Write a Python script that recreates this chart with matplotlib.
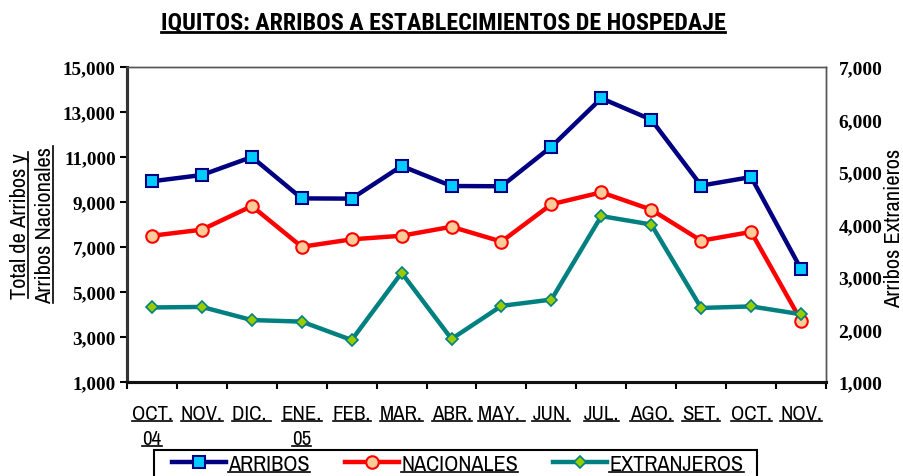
import numpy as np
import matplotlib
matplotlib.use('Agg')
import matplotlib.pyplot as plt
from matplotlib.lines import Line2D
from matplotlib.patches import Rectangle
from matplotlib.ticker import FuncFormatter, FixedLocator

# data
months = ['OCT.', 'NOV.', 'DIC. ', 'ENE.', 'FEB.', 'MAR.', 'ABR.', 'MAY. ', 'JUN.',
          'JUL.', 'AGO.', 'SET.', 'OCT.', 'NOV.']
years = {0: '04', 3: '05'}
arribos = [9920, 10200, 11000, 9160, 9150, 10600, 9710, 9700, 11460, 13610,
           12660, 9730, 10110, 6020]
nacionales = [7500, 7770, 8820, 7010, 7340, 7500, 7900, 7240, 8900, 9430,
              8660, 7280, 7670, 3730]
extranjeros = [2420, 2430, 2180, 2150, 1800, 3080, 1820, 2450, 2570, 4160,
               4000, 2410, 2440, 2290]
left_ticks = [1000, 3000, 5000, 7000, 9000, 11000, 13000, 15000]
right_ticks = [1000, 2000, 3000, 4000, 5000, 6000, 7000]

W, H = 904, 477
narrow = ['Archivo Narrow', 'DejaVu Sans']
narrow_bold = ['Roboto Condensed', 'PT Sans Narrow', 'Asap Condensed', 'DejaVu Sans']
serif = ['Liberation Serif', 'DejaVu Serif']

fig = plt.figure(figsize=(W / 100, H / 100), dpi=100)
ax = fig.add_axes([127 / W, 1 - 383 / H, 699 / W, 315 / H])
ax2 = ax.twinx()

x = np.arange(len(months))
l1, = ax.plot(x, arribos, color='#000080', lw=3.2, marker='s', ms=8.5,
              mfc='#00CCFF', mec='#000080', mew=1.5, label='ARRIBOS')
l2, = ax.plot(x, nacionales, color='#FF0000', lw=3.2, marker='o', ms=9,
              mfc='#FFCC99', mec='#FF0000', mew=1.5, label='NACIONALES')
l3, = ax2.plot(x, extranjeros, color='#008080', lw=3.2, marker='D', ms=6.5,
               mfc='#99CC00', mec='#008080', mew=1.2, label='EXTRANJEROS')

ax.set_xlim(-0.5, len(months) - 0.5)
ax.set_ylim(1000, 15000)
ax2.set_ylim(1000, 7000)
ax.set_yticks(left_ticks)
ax2.set_yticks(right_ticks)
fmt = FuncFormatter(lambda v, p: '{:,.0f}'.format(v))
ax.yaxis.set_major_formatter(fmt)
ax2.yaxis.set_major_formatter(fmt)

ax.set_xticks(x)
ax.set_xticklabels(months)
ax.xaxis.set_minor_locator(FixedLocator(np.arange(-0.5, len(months), 1.0)))
ax.tick_params(axis='x', which='major', length=0, pad=16)
ax.tick_params(axis='x', which='minor', length=5, width=1.5, direction='out')
ax.tick_params(axis='y', length=5, width=1.5, direction='out', pad=3)
ax2.tick_params(axis='y', length=0, pad=9)

for lab in ax.get_xticklabels():
    lab.set_fontfamily(narrow)
    lab.set_fontsize(15)
for lab in ax.get_yticklabels():
    lab.set_fontfamily(serif)
    lab.set_fontweight('bold')
    lab.set_fontsize(13.8)
for lab in ax2.get_yticklabels():
    lab.set_fontfamily(serif)
    lab.set_fontweight('bold')
    lab.set_fontsize(14)

for a in (ax, ax2):
    a.spines['left'].set_linewidth(2.2)
    a.spines['left'].set_color('#333333')
    a.spines['bottom'].set_linewidth(2.2)
    a.spines['bottom'].set_color('#111111')
    a.spines['top'].set_linewidth(1)
    a.spines['top'].set_color('#555555')
    a.spines['right'].set_linewidth(1)
    a.spines['right'].set_color('#555555')

# year labels under OCT. and ENE.
xtr = ax.get_xaxis_transform()
under = []
for i, yr in years.items():
    under.append(ax.text(i, -0.18, yr, transform=xtr, ha='center', va='center',
                         fontsize=15, family=narrow))

title = fig.text(443 / W, 1 - 23 / H, 'IQUITOS: ARRIBOS A ESTABLECIMIENTOS DE HOSPEDAJE',
                 ha='center', va='center', fontsize=17.3, fontweight='bold', family=narrow_bold)
yl1 = fig.text(20 / W, 1 - 226 / H, 'Total de Arribos y', rotation=90, ha='center',
               va='center', fontsize=16.2, family=narrow)
yl2 = fig.text(45 / W, 1 - 225 / H, 'Arribos Nacionales', rotation=90, ha='center',
               va='center', fontsize=16.2, family=narrow)
fig.text(894 / W, 1 - 228 / H, 'Arribos Extranieros', rotation=90, ha='center',
         va='center', fontsize=16.2, family=narrow)

# legend: box runs off the bottom edge in the original, so draw frame separately
leg = fig.legend(handles=[l1, l2, l3], loc='upper left', ncol=3,
                 bbox_to_anchor=(172 / W, 1 - 455 / H), frameon=False,
                 prop={'family': narrow, 'size': 16}, handlelength=2.43,
                 handletextpad=0.1, columnspacing=1.58, borderpad=0,
                 borderaxespad=0)
fig.add_artist(Rectangle((154 / W, -0.05), 603 / W, (477 - 451) / H + 0.05,
                         transform=fig.transFigure, fill=False, ec='black', lw=1.5))

# underline texts (no native underline in matplotlib)
fig.canvas.draw()
r = fig.canvas.get_renderer()


def underline(t, gap=2.0, lw=1.2):
    bb = t.get_window_extent(renderer=r)
    _, _, d = r.get_text_width_height_descent('lp', t.get_fontproperties(), ismath=False)
    if t.get_rotation() == 90:
        xx = bb.x1 - d + gap
        fig.add_artist(Line2D([xx / W, xx / W], [bb.y0 / H, bb.y1 / H], color='black', lw=lw))
    else:
        y = bb.y0 + d - gap
        fig.add_artist(Line2D([bb.x0 / W, bb.x1 / W], [y / H, y / H], color='black', lw=lw))


for t in list(ax.get_xticklabels()) + under + leg.get_texts():
    underline(t)
underline(title, gap=3, lw=2)
underline(yl1)
underline(yl2)

fig.savefig('out.png', dpi=100)
